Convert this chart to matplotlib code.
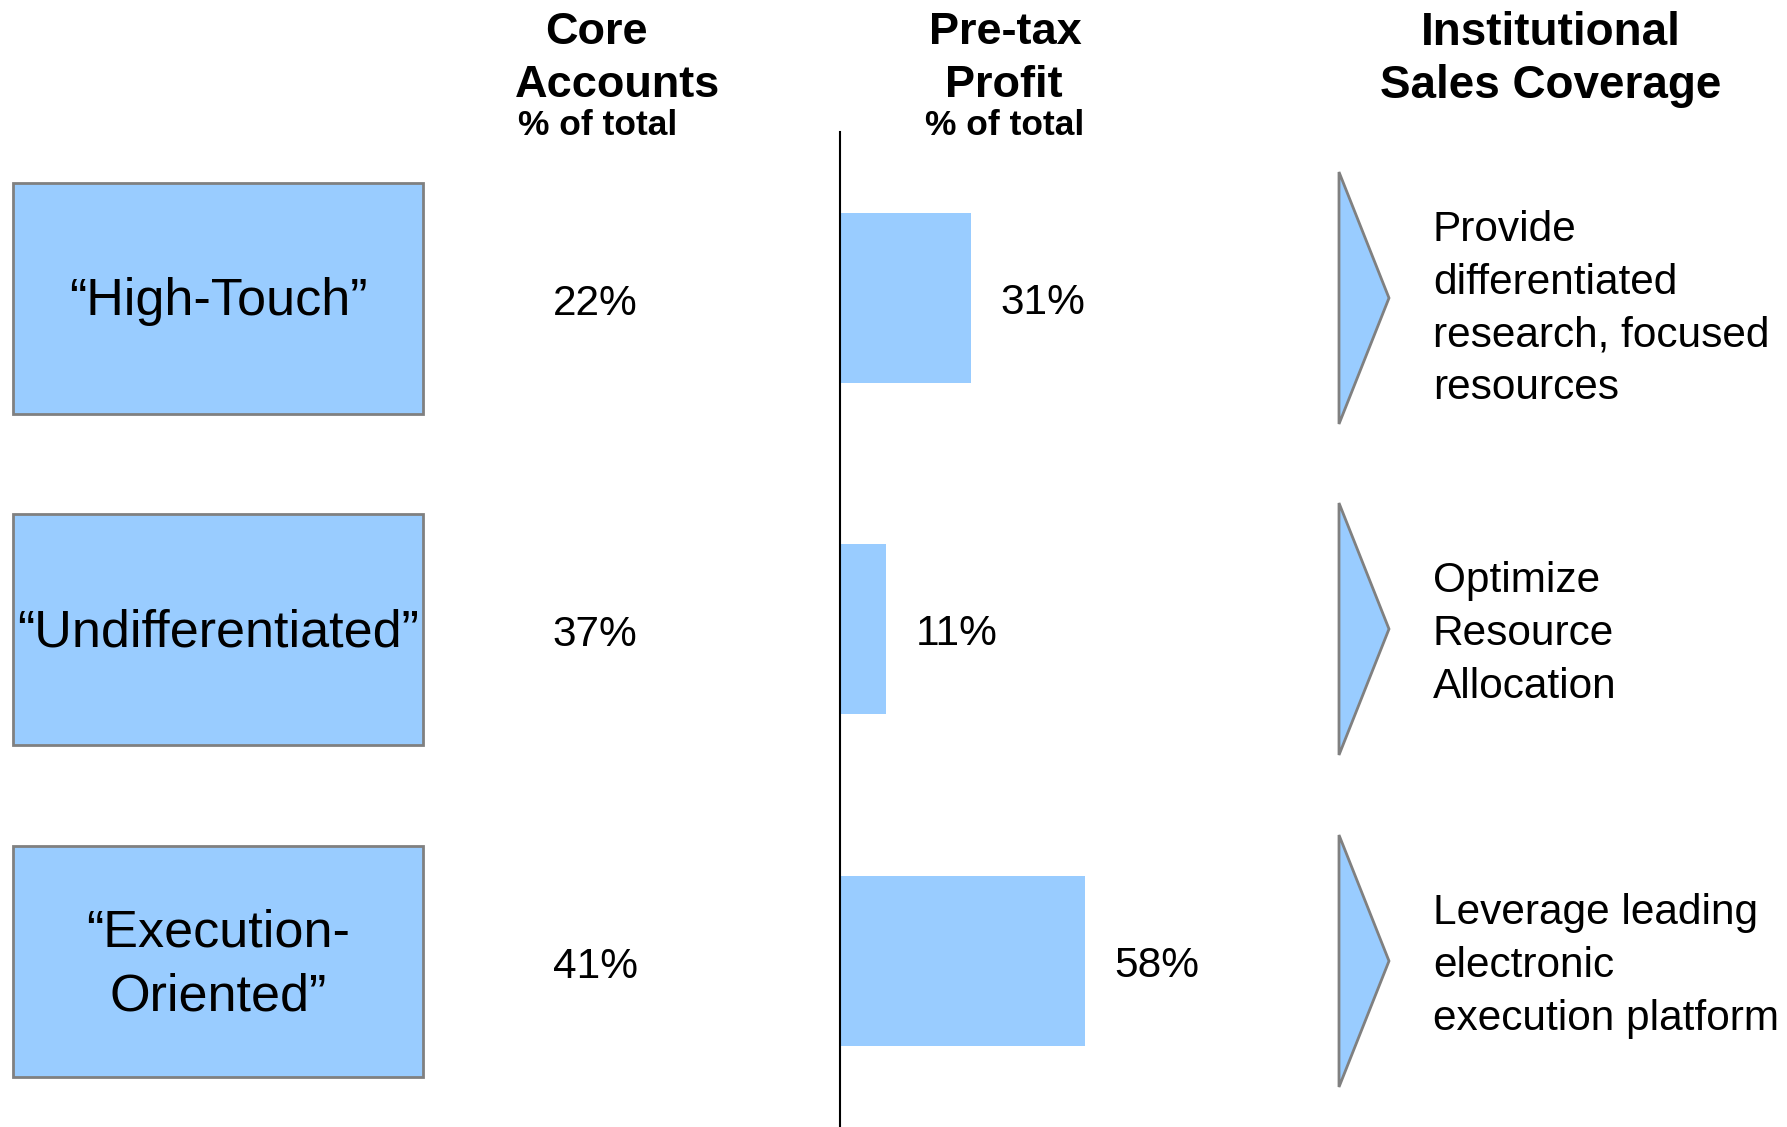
import matplotlib
matplotlib.use("Agg")
import matplotlib.pyplot as plt
from matplotlib.patches import Rectangle, Polygon

# donnees du graphique
segments = ["\u201cHigh-Touch\u201d", "\u201cUndifferentiated\u201d", "\u201cExecution-\nOriented\u201d"]
core_accounts = [22, 37, 41]      # % of total
pretax_profit = [31, 11, 58]      # % of total
coverage = ["Provide\ndifferentiated\nresearch, focused\nresources",
            "Optimize\nResource\nAllocation",
            "Leverage leading\nelectronic\nexecution platform"]

W, H = 1787, 1127
bleu = "#99CCFF"
gris = "#808080"
row_y = [298, 629, 961]   # centre vertical de chaque ligne (pixels)
text_dy = [11, 5, 5]      # decalage du texte de droite

plt.rcParams['font.family'] = ['Liberation Sans', 'DejaVu Sans']

fig = plt.figure(figsize=(W / 100, H / 100), dpi=100)

# axe de mise en page, en pixels
ax = fig.add_axes([0, 0, 1, 1])
ax.set_xlim(0, W)
ax.set_ylim(H, 0)
ax.axis('off')

# en-tetes
ax.text(596, 44, "Core", fontsize=32.5, fontweight='bold', ha='center', va='baseline')
ax.text(618, 97, "Accounts", fontsize=32.5, fontweight='bold', ha='center', va='baseline')
ax.text(598, 135, "% of total", fontsize=25.5, fontweight='bold', ha='center', va='baseline')
ax.text(1005, 44, "Pre-tax", fontsize=32.5, fontweight='bold', ha='center', va='baseline')
ax.text(1004, 97, "Profit", fontsize=32.5, fontweight='bold', ha='center', va='baseline')
ax.text(1005, 135, "% of total", fontsize=25.5, fontweight='bold', ha='center', va='baseline')
ax.text(1551, 45, "Institutional", fontsize=33, fontweight='bold', ha='center', va='baseline')
ax.text(1551, 98, "Sales Coverage", fontsize=33, fontweight='bold', ha='center', va='baseline')

for i, y in enumerate(row_y):
    # boite du segment
    ax.add_patch(Rectangle((12.5, y - 115.5), 410.5, 231, facecolor=bleu,
                           edgecolor=gris, linewidth=2))
    ax.text(218, y + 4, segments[i], fontsize=37.5, ha='center', va='center',
            linespacing=1.42)

    # part des comptes
    ax.text(595, y + 17, f"{core_accounts[i]}%", fontsize=30.5, ha='center', va='baseline')

    # fleche triangulaire
    ax.add_patch(Polygon([(1339, y - 126), (1389, y), (1339, y + 126)], closed=True,
                         facecolor=bleu, edgecolor=gris, linewidth=2))
    ax.text(1433, y + text_dy[i], coverage[i], fontsize=30.5, ha='left', va='center',
            linespacing=1.41)

# axe des barres (profit avant impots)
bx = fig.add_axes([840 / W, 0, 422 / W, 1])
bx.patch.set_visible(False)
bx.set_xlim(0, 100)
bx.set_ylim(H, 0)
bx.barh(row_y, pretax_profit, height=170, color=bleu, edgecolor='none')
for y, v in zip(row_y, pretax_profit):
    bx.annotate(f"{v}%", xy=(v, y + 16), xytext=(21, 0), textcoords='offset points',
                fontsize=30.5, ha='left', va='baseline')
for s in ['top', 'right', 'bottom']:
    bx.spines[s].set_visible(False)
bx.spines['left'].set_bounds(132, H)
bx.spines['left'].set_linewidth(1.5)
bx.set_xticks([])
bx.set_yticks([])

fig.savefig("out.png", dpi=100)
